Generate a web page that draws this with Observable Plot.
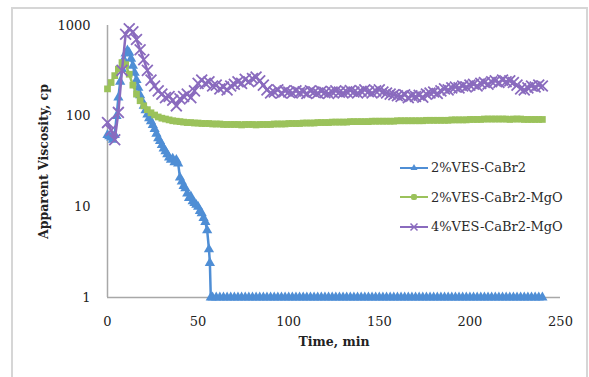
<!DOCTYPE html>
<html><head><meta charset="utf-8">
<script src="https://cdn.jsdelivr.net/npm/d3@7"></script>
<script src="https://cdn.jsdelivr.net/npm/@observablehq/plot@0.6"></script>
<style>
body{margin:0;background:#fff;}
#wrap{position:relative;width:589px;height:377px;overflow:hidden;font-family:"DejaVu Serif",serif;}
#frame{position:absolute;left:11px;top:7px;width:577px;height:400px;border:2px solid #d6d6d6;box-sizing:border-box;}
#chart{position:absolute;left:0;top:0;}
#legend{position:absolute;left:400px;top:153px;font-size:13px;color:#2a2a2a;}
.row{display:flex;align-items:center;height:29.5px;}
.row svg{margin-right:2px;}
</style></head>
<body><div id="wrap"><div id="frame"></div><div id="chart"></div><div id="legend"></div></div>
<script>
const seriesNames = ["2%VES-CaBr2", "2%VES-CaBr2-MgO", "4%VES-CaBr2-MgO"];
const colors = ["#4F8ED5", "#9BC25B", "#8A6BBE"];
const xTicks = [0, 50, 100, 150, 200, 250];
const yTicks = [1, 10, 100, 1000];
const xTitle = "Time, min";
const yTitle = "Apparent Viscosity, cp";

// shared time grid (min) for the MgO series
const time = d3.range(0, 241, 2);

const greenV = [
 200,235,280,330,390,370,290,220,175,148,
 130,118,109,103,98,95,93,91,89,88,
 87,86,85,85,84,84,83,83,83,82,
 82,82,81,81,81,81,81,80,81,81,
 81,80,81,81,81,81,82,82,82,82,
 83,83,83,83,84,84,84,84,85,85,
 85,85,86,86,86,86,86,87,87,87,
 87,87,87,88,88,88,88,88,88,88,
 89,89,89,89,89,89,89,89,90,90,
 90,90,90,90,90,91,91,91,91,91,
 92,92,92,92,93,93,93,93,93,93,
 93,92,93,93,93,92,92,92,92,92,
 92];

const purpleV = [
 85,70,55,110,320,800,920,850,700,540,
 420,320,250,215,190,175,160,165,150,130,
 155,165,175,160,190,230,250,230,240,215,
 220,200,210,195,215,225,240,230,255,240,
 260,270,245,220,195,180,185,195,180,190,
 185,180,190,182,186,178,190,184,180,188,
 182,178,185,190,184,180,186,192,185,180,
 188,195,186,180,190,195,185,180,175,172,
 168,165,172,160,168,165,170,162,175,180,
 185,178,190,200,195,205,210,205,215,210,
 220,225,215,230,235,225,240,245,235,250,
 240,245,235,220,200,195,205,215,210,220,
 215];

// 2%VES-CaBr2: early part read at 1-min steps, then flat tail
const blueT = [
 0,1,2,3,4,5,6,7,8,9,
 10,11,12,13,14,15,16,17,18,19,
 20,21,22,23,24,25,26,27,28,29,
 30,31,32,33,34,35,36,37,38,39,
 40,41,42,43,44,45,46,47,48,49,
 50,51,52,53,54,55,56,56.5,57];
const blueV = [
 62,60,58,55,62,100,160,240,330,420,
 490,530,500,430,360,300,250,205,170,148,
 130,116,104,95,88,80,72,64,57,53,
 48,44,41,38,35,33,34,31,33,30,
 21,19,17,16,14,12.5,13,11.5,11,10.5,
 10,9,8.5,7.5,6.8,5.5,3.4,2.4,1];
const blueTailT = d3.range(58, 241, 2);
const blueTailV = [
 1,1,1,1,1,1,1,1,1,1,
 1,1,1,1,1,1,1,1,1,1,
 1,1,1,1,1,1,1,1,1,1,
 1,1,1,1,1,1,1,1,1,1,
 1,1,1,1,1,1,1,1,1,1,
 1,1,1,1,1,1,1,1,1,1,
 1,1,1,1,1,1,1,1,1,1,
 1,1,1,1,1,1,1,1,1,1,
 1,1,1,1,1,1,1,1,1,1,
 1,1];

const blue = blueT.map((t,i)=>({t, v: blueV[i]})).concat(blueTailT.map((t,i)=>({t, v: blueTailV[i]})));
const green = time.map((t,i)=>({t, v: greenV[i]}));
const purple = time.map((t,i)=>({t, v: purpleV[i]}));

const plot = Plot.plot({
  width: 589, height: 377,
  marginLeft: 107, marginRight: 29, marginTop: 25, marginBottom: 80,
  style: {fontFamily: "DejaVu Serif", fontSize: "13px", color: "#222", background: "transparent"},
  x: {domain: [0, 250]},
  y: {type: "log", domain: [1, 1000]},
  marks: [
    Plot.ruleX([0], {stroke: "#a8a8a8", strokeWidth: 1.5}),
    Plot.ruleY([1], {stroke: "#a8a8a8", strokeWidth: 1.5}),
    Plot.axisX({ticks: xTicks, tickSize: 0, tickPadding: 19, label: null}),
    Plot.axisY({ticks: yTicks, tickSize: 0, tickPadding: 17, label: null, tickFormat: d => String(d)}),
    Plot.line(blue, {x: "t", y: "v", stroke: colors[0], strokeWidth: 2.5}),
    Plot.dot(blue, {x: "t", y: "v", symbol: "triangle", fill: colors[0], r: 3.8}),
    Plot.line(green, {x: "t", y: "v", stroke: colors[1], strokeWidth: 2.5}),
    Plot.dot(green, {x: "t", y: "v", symbol: "square", fill: colors[1], r: 3.8}),
    Plot.line(purple, {x: "t", y: "v", stroke: colors[2], strokeWidth: 2.5}),
    Plot.dot(purple, {x: "t", y: "v", symbol: "times", stroke: colors[2], strokeWidth: 1.8, r: 5}),
    Plot.text([yTitle], {text: d => d, frameAnchor: "left", textAnchor: "middle", dx: -64, rotate: -90, fontWeight: "bold", fontSize: 12.5, fill: "#222"}),
    Plot.text([xTitle], {text: d => d, frameAnchor: "bottom", dy: 48, fontWeight: "bold", fontSize: 12.5, fill: "#222"})
  ]
});
document.getElementById("chart").appendChild(plot);

// legend
const syms = ["triangle", "square", "times"];
const leg = document.getElementById("legend");
seriesNames.forEach((name, i) => {
  const row = document.createElement("div");
  row.className = "row";
  let marker = "";
  if (syms[i] === "triangle") marker = `<polygon points="14,4 17.5,10 10.5,10" fill="${colors[i]}"/>`;
  else if (syms[i] === "square") marker = `<rect x="11" y="5" width="6" height="6" rx="2" fill="${colors[i]}"/>`;
  else marker = `<path d="M10.5,4.5L17.5,11.5M17.5,4.5L10.5,11.5" stroke="${colors[i]}" stroke-width="1.5"/>`;
  row.innerHTML = `<svg width="29" height="16"><line x1="0" x2="28" y1="8" y2="8" stroke="${colors[i]}" stroke-width="2"/>${marker}</svg><span>${name}</span>`;
  leg.appendChild(row);
});
</script>
</body></html>
